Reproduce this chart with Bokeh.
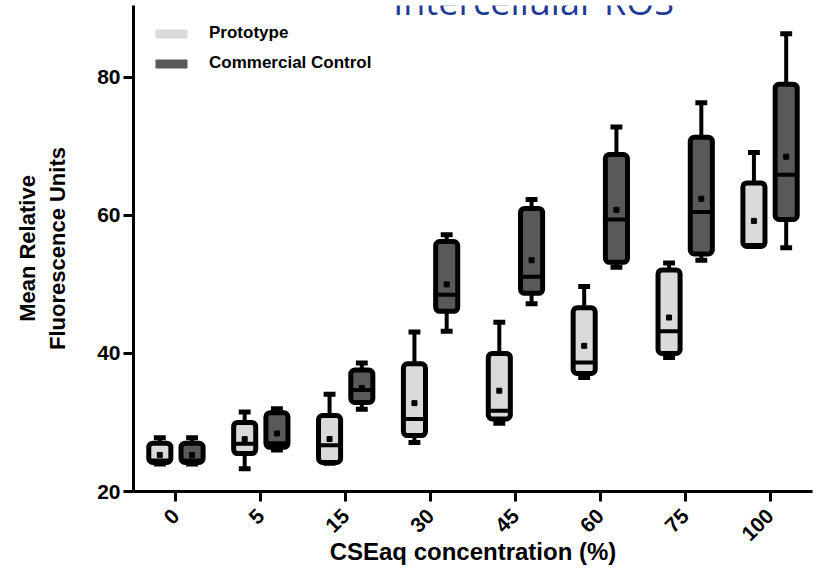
import math
from bokeh.plotting import figure
from bokeh.models import ColumnDataSource, FactorRange, Range1d, Label, Legend, LegendItem, FixedTicker
from bokeh.transform import dodge
from bokeh.embed import file_html
from bokeh.resources import INLINE

categories = ["0", "5", "15", "30", "45", "60", "75", "100"]

proto_min = [24.0, 23.3, 24.1, 27.1, 29.9, 36.5, 39.4, 55.5]
proto_q1 = [24.2, 25.5, 24.2, 28.1, 30.5, 37.1, 40.0, 55.5]
proto_median = [24.5, 26.9, 26.7, 30.5, 31.7, 38.7, 43.2, 55.7]
proto_q3 = [27.0, 30.0, 31.0, 38.5, 40.0, 46.6, 52.1, 64.7]
proto_max = [27.8, 31.5, 34.1, 43.1, 44.5, 49.7, 53.1, 69.1]
proto_mean = [25.3, 27.6, 27.6, 32.8, 34.6, 41.1, 45.2, 59.2]

ctrl_min = [24.0, 26.0, 31.9, 43.2, 47.2, 52.5, 53.5, 55.3]
ctrl_q1 = [24.2, 26.4, 32.9, 46.1, 48.7, 53.2, 54.4, 59.4]
ctrl_median = [24.5, 27.0, 34.7, 48.5, 51.1, 59.4, 60.5, 65.9]
ctrl_q3 = [27.0, 31.4, 37.6, 56.2, 61.0, 68.8, 71.3, 79.0]
ctrl_max = [27.8, 32.0, 38.6, 57.2, 62.3, 72.8, 76.3, 86.3]
ctrl_mean = [25.3, 28.4, 35.0, 50.0, 53.5, 60.8, 62.4, 68.5]

y_ticks = [20, 40, 60, 80]

FONT = "Liberation Sans"
PROTO_COLOR = "#dadada"
CTRL_COLOR = "#595959"

p = figure(width=816, height=570, output_backend="svg", toolbar_location=None,
           x_range=FactorRange(*categories, range_padding=0),
           y_range=Range1d(20, 90.4),
           min_border_left=133, min_border_right=4, min_border_top=5, min_border_bottom=79)
p.x_range.factor_padding = 0
p.grid.visible = False
p.outline_line_color = None
p.background_fill_color = "white"
p.border_fill_color = "white"

BOX_W = 0.26
CAP_W = 0.07


def draw_series(mins, q1, med, q3, maxs, means, offset, fill):
    src = ColumnDataSource(dict(cat=categories, mn=mins, q1=q1, med=med, q3=q3, mx=maxs, mean=means))
    xc = dodge("cat", offset, range=p.x_range)
    p.segment(x0=xc, x1=xc, y0="q3", y1="mx", source=src, line_color="black", line_width=4)
    p.segment(x0=xc, x1=xc, y0="q1", y1="mn", source=src, line_color="black", line_width=4)
    p.segment(x0=dodge("cat", offset - CAP_W, range=p.x_range), x1=dodge("cat", offset + CAP_W, range=p.x_range),
              y0="mx", y1="mx", source=src, line_color="black", line_width=5)
    p.segment(x0=dodge("cat", offset - CAP_W, range=p.x_range), x1=dodge("cat", offset + CAP_W, range=p.x_range),
              y0="mn", y1="mn", source=src, line_color="black", line_width=5)
    p.vbar(x=xc, width=BOX_W, top="q3", bottom="q1", source=src, fill_color=fill,
           line_color="black", line_width=5, border_radius=4)
    p.segment(x0=dodge("cat", offset - BOX_W / 2, range=p.x_range), x1=dodge("cat", offset + BOX_W / 2, range=p.x_range),
              y0="med", y1="med", source=src, line_color="black", line_width=4)
    p.scatter(x=xc, y="mean", source=src, marker="square", size=5, color="black")


draw_series(proto_min, proto_q1, proto_median, proto_q3, proto_max, proto_mean, -0.19, PROTO_COLOR)
draw_series(ctrl_min, ctrl_q1, ctrl_median, ctrl_q3, ctrl_max, ctrl_mean, 0.19, CTRL_COLOR)

# legend swatches (no outline); the bars sit below the visible y range
leg_src = ColumnDataSource(dict(cat=[categories[0]], top=[5], bottom=[0]))
r_proto = p.vbar(x="cat", top="top", bottom="bottom", width=0.3, source=leg_src,
                 fill_color=PROTO_COLOR, line_color=None, border_radius=4)
r_ctrl = p.vbar(x="cat", top="top", bottom="bottom", width=0.3, source=leg_src,
                fill_color=CTRL_COLOR, line_color=None, border_radius=4)
legend = Legend(items=[LegendItem(label="Prototype", renderers=[r_proto]),
                       LegendItem(label="Commercial Control", renderers=[r_ctrl])],
                location="top_left", margin=0, padding=18, spacing=10,
                glyph_width=40, glyph_height=11, label_height=18, label_standoff=18,
                label_text_font=FONT, label_text_font_style="bold", label_text_font_size="17px",
                label_text_color="black",
                background_fill_alpha=0, border_line_alpha=0)
p.add_layout(legend)

# axes
for ax in (p.xaxis, p.yaxis):
    ax.axis_line_width = 3
    ax.axis_line_color = "black"
    ax.major_tick_line_width = 3
    ax.major_tick_line_color = "black"
    ax.major_tick_out = 10
    ax.major_tick_in = 0
    ax.minor_tick_line_color = None
    ax.major_label_text_font = FONT
    ax.major_label_text_font_style = "bold"
    ax.major_label_text_font_size = "21px"
    ax.major_label_text_color = "black"
    ax.axis_label_text_font = FONT
    ax.axis_label_text_font_style = "bold"
    ax.axis_label_text_color = "black"

p.yaxis.ticker = FixedTicker(ticks=y_ticks)
p.yaxis.major_label_standoff = 3
p.yaxis.axis_label = "Mean Relative\nFluorescence Units"
p.yaxis.axis_label_text_font_size = "22px"
p.yaxis.axis_label_standoff = 24

p.xaxis.major_label_orientation = math.pi / 4
p.xaxis.major_label_standoff = 11
p.xaxis.axis_label = "CSEaq concentration (%)"
p.xaxis.axis_label_text_font_size = "24px"
p.xaxis.axis_label_standoff = -12

title = Label(x=3.06, y=91.0, text="Intercellular ROS", text_font="Open Sans",
              text_font_size="36px", text_color="#1f3a96", text_align="left",
              text_baseline="alphabetic")
p.add_layout(title)

open("out.html", "w").write(file_html(p, INLINE))
